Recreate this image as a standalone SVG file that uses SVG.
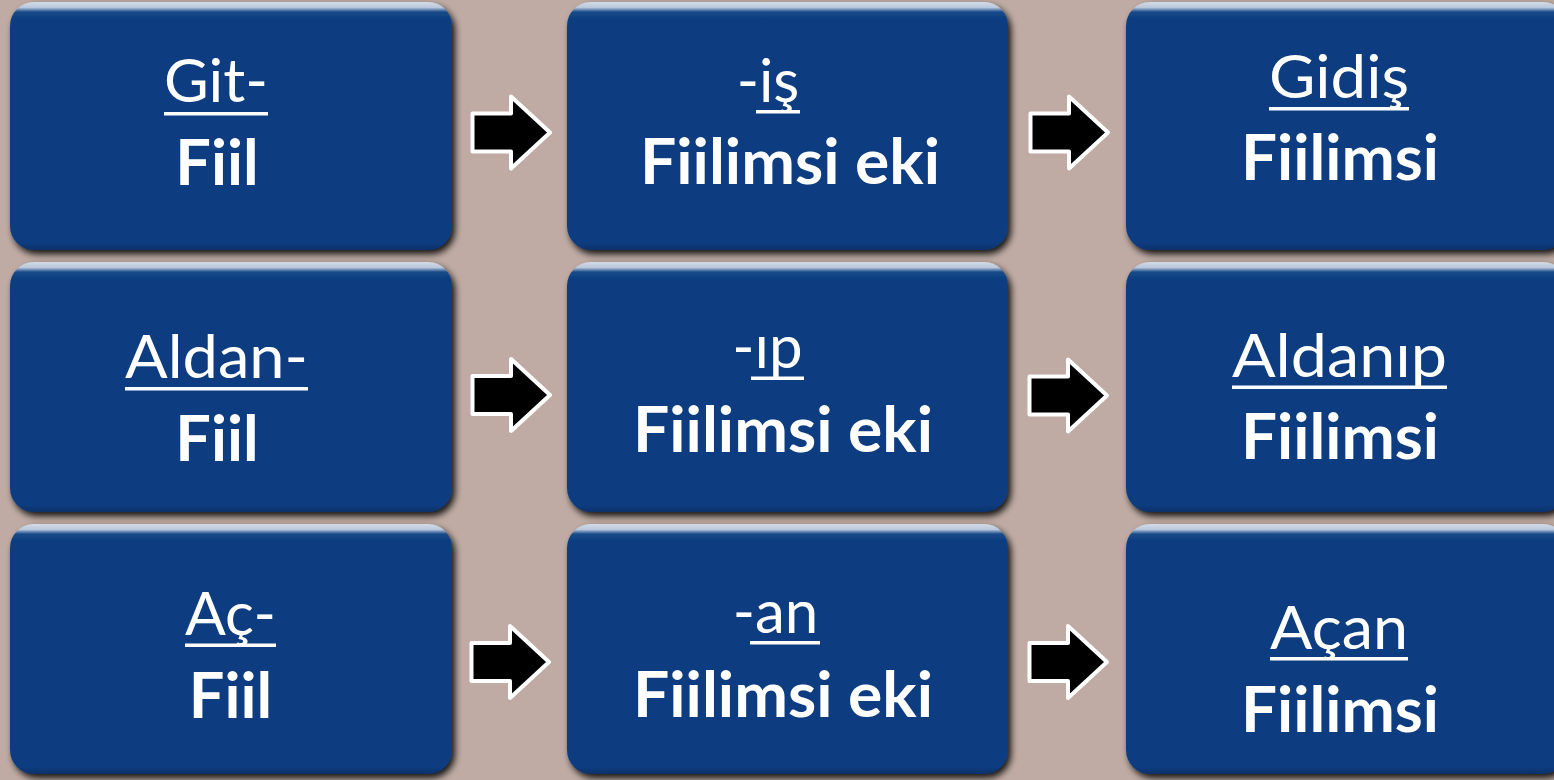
<svg xmlns="http://www.w3.org/2000/svg" width="1554" height="780" viewBox="0 0 1554 780">
<defs>
<linearGradient id="boxg" x1="0" y1="0" x2="0" y2="1">
<stop offset="0" stop-color="#d3dce8"/>
<stop offset="0.022" stop-color="#b9c8dc"/>
<stop offset="0.04" stop-color="#1a4a88"/>
<stop offset="0.07" stop-color="#0b3d80"/>
<stop offset="0.97" stop-color="#0b3d80"/>
<stop offset="1" stop-color="#08316a"/>
</linearGradient>
<filter id="sh" x="-5%" y="-5%" width="112%" height="115%">
<feGaussianBlur in="SourceAlpha" stdDeviation="3.5"/>
<feOffset dx="3" dy="4" result="b"/>
<feComponentTransfer><feFuncA type="linear" slope="0.9"/></feComponentTransfer>
<feMerge><feMergeNode/><feMergeNode in="SourceGraphic"/></feMerge>
</filter>
<path id="arrow" d="M2.5,-19 L41,-19 L41,-36 L80,0 L41,36 L41,19 L2.5,19 Z"/>
</defs>
<style>
.box{fill:url(#boxg);filter:url(#sh)}
.t1{font-family:Lato,"Open Sans",sans-serif;font-size:60px;fill:#fff;text-anchor:middle}
.t2{font-family:Lato,"Open Sans",sans-serif;font-size:63px;font-weight:bold;fill:#fff;text-anchor:middle}
.ul{fill:#fff}
.arr{fill:#000;stroke:#fff;stroke-width:4;stroke-linejoin:round}
</style>
<rect width="1554" height="780" fill="#bfaba3"/>

<g id="n1">
<rect class="box" x="10" y="2" width="442" height="248" rx="24"/>
<text class="t1" x="216" y="102" textLength="104" lengthAdjust="spacingAndGlyphs">Git-</text>
<rect class="ul" x="164" y="112" width="104" height="3.5"/>
<text class="t2" x="217" y="185">Fiil</text>
</g>
<g id="n2">
<rect class="box" x="567" y="2" width="441" height="248" rx="24"/>
<text class="t1" x="768" y="102">-iş</text>
<rect class="ul" x="756" y="110" width="44" height="3.5"/>
<text class="t2" x="790" y="184" textLength="300" lengthAdjust="spacingAndGlyphs">Fiilimsi eki</text>
</g>
<g id="n3">
<rect class="box" x="1126" y="2" width="441" height="248" rx="24"/>
<text class="t1" x="1339" y="98" textLength="140" lengthAdjust="spacingAndGlyphs">Gidiş</text>
<rect class="ul" x="1269" y="107" width="140" height="3.5"/>
<text class="t2" x="1340" y="180" textLength="198" lengthAdjust="spacingAndGlyphs">Fiilimsi</text>
</g>

<g id="n4">
<rect class="box" x="10" y="262" width="442" height="250" rx="24"/>
<text class="t1" x="216.5" y="378" textLength="183" lengthAdjust="spacingAndGlyphs">Aldan-</text>
<rect class="ul" x="125" y="387" width="183" height="3.5"/>
<text class="t2" x="217" y="461">Fiil</text>
</g>
<g id="n5">
<rect class="box" x="567" y="262" width="441" height="250" rx="24"/>
<text class="t1" x="767.5" y="368">-ıp</text>
<rect class="ul" x="751" y="376.5" width="53" height="3.5"/>
<text class="t2" x="783" y="452" textLength="300" lengthAdjust="spacingAndGlyphs">Fiilimsi eki</text>
</g>
<g id="n6">
<rect class="box" x="1126" y="262" width="441" height="250" rx="24"/>
<text class="t1" x="1339.5" y="377" textLength="215" lengthAdjust="spacingAndGlyphs">Aldanıp</text>
<rect class="ul" x="1232" y="385.5" width="215" height="3.5"/>
<text class="t2" x="1340" y="459" textLength="198" lengthAdjust="spacingAndGlyphs">Fiilimsi</text>
</g>

<g id="n7">
<rect class="box" x="10" y="524" width="442" height="250" rx="24"/>
<text class="t1" x="230.5" y="635" textLength="91" lengthAdjust="spacingAndGlyphs">Aç-</text>
<rect class="ul" x="185" y="643.5" width="91" height="3.5"/>
<text class="t2" x="230.5" y="718">Fiil</text>
</g>
<g id="n8">
<rect class="box" x="567" y="524" width="441" height="250" rx="24"/>
<text class="t1" x="775.5" y="633">-an</text>
<rect class="ul" x="750" y="641" width="70" height="3.5"/>
<text class="t2" x="783" y="717" textLength="300" lengthAdjust="spacingAndGlyphs">Fiilimsi eki</text>
</g>
<g id="n9">
<rect class="box" x="1126" y="524" width="441" height="250" rx="24"/>
<text class="t1" x="1339" y="649" textLength="138" lengthAdjust="spacingAndGlyphs">Açan</text>
<rect class="ul" x="1270" y="657" width="138" height="3.5"/>
<text class="t2" x="1340" y="732" textLength="198" lengthAdjust="spacingAndGlyphs">Fiilimsi</text>
</g>

<g id="connectors">
<use href="#arrow" class="arr" transform="translate(470,132.5)"/>
<use href="#arrow" class="arr" transform="translate(1028,132.5)"/>
<use href="#arrow" class="arr" transform="translate(470,395)"/>
<use href="#arrow" class="arr" transform="translate(1027,395.5)"/>
<use href="#arrow" class="arr" transform="translate(469,662)"/>
<use href="#arrow" class="arr" transform="translate(1027,662)"/>
</g>
</svg>
